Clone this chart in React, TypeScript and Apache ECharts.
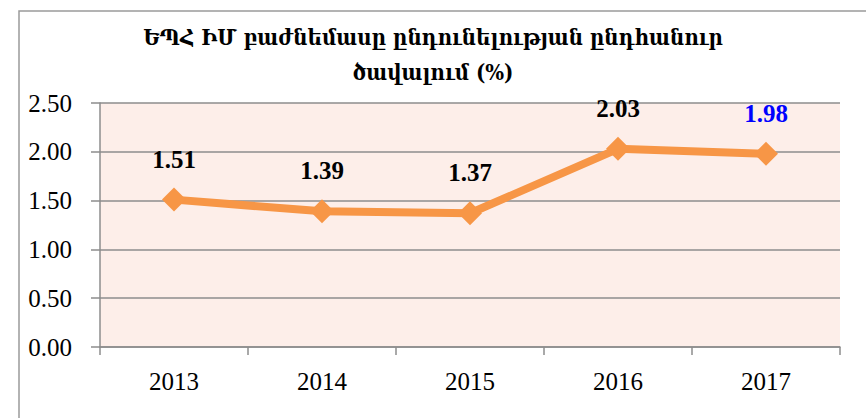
import React, { useEffect, useRef } from "react";
import * as echarts from "echarts";

const titleLines = ["ԵՊՀ ԻՄ բաժնեմասը ընդունելության ընդհանուր", "ծավալում (%)"];
const categories = ["2013", "2014", "2015", "2016", "2017"];
const values = [1.51, 1.39, 1.37, 2.03, 1.98];
const yTicks = { min: 0, max: 2.5, interval: 0.5 };

export default function App() {
  const ref = useRef<HTMLDivElement>(null);
  useEffect(() => {
    if (!ref.current) return;
    const chart = echarts.init(ref.current, undefined, { renderer: "svg" });
    const serif = "'Liberation Serif', 'DejaVu Serif', serif";
    const data = values.map((v, i) =>
      i === values.length - 1
        ? { value: v, label: { color: "#0000FF" } }
        : { value: v }
    );
    chart.setOption({
      animation: false,
      backgroundColor: "#ffffff",
      title: {
        text: titleLines.join("\n"),
        left: "center",
        top: 14,
        textStyle: {
          fontFamily: "'DejaVu Serif Condensed', 'DejaVu Serif', serif",
          fontSize: 22,
          fontWeight: "bold",
          color: "#000",
          lineHeight: 35,
        },
      },
      graphic: [
        {
          type: "polyline",
          shape: { points: [[19, 430], [19, 11], [880, 11]] },
          style: { stroke: "#9a9a9a", lineWidth: 1.5, fill: "none" },
          silent: true,
        },
      ],
      grid: { left: 100, right: 26, top: 103, bottom: 71, show: true, backgroundColor: "#FDEEE9", borderWidth: 0 },
      xAxis: {
        type: "category",
        data: categories,
        boundaryGap: true,
        axisLine: { lineStyle: { color: "#8c8c8c", width: 1.5 } },
        axisTick: { show: true, length: 8, lineStyle: { color: "#8c8c8c", width: 1.5 } },
        axisLabel: { fontFamily: serif, fontSize: 25, color: "#000", margin: 22 },
      },
      yAxis: {
        type: "value",
        min: yTicks.min,
        max: yTicks.max,
        interval: yTicks.interval,
        axisLine: { show: true, lineStyle: { color: "#8c8c8c", width: 1.5 } },
        axisTick: { show: true, length: 9, lineStyle: { color: "#8c8c8c", width: 1.5 } },
        splitLine: { lineStyle: { color: "#8c8c8c", width: 1.5 } },
        axisLabel: {
          fontFamily: serif,
          fontSize: 25,
          color: "#000",
          margin: 28,
          formatter: (v: number) => v.toFixed(2),
        },
      },
      series: [
        {
          type: "line",
          data,
          symbol: "diamond",
          symbolSize: 24,
          lineStyle: { color: "#F79646", width: 8 },
          itemStyle: { color: "#F79646" },
          label: {
            show: true,
            position: "top",
            distance: 16,
            fontFamily: serif,
            fontSize: 25,
            fontWeight: "bold",
            color: "#000",
            formatter: (p: any) => p.value.toFixed(2),
          },
        },
      ],
    });
    return () => chart.dispose();
  }, []);
  return (
    <div
      ref={ref}
      style={{ position: "fixed", left: 0, top: 0, width: 866, height: 418 }}
    />
  );
}
